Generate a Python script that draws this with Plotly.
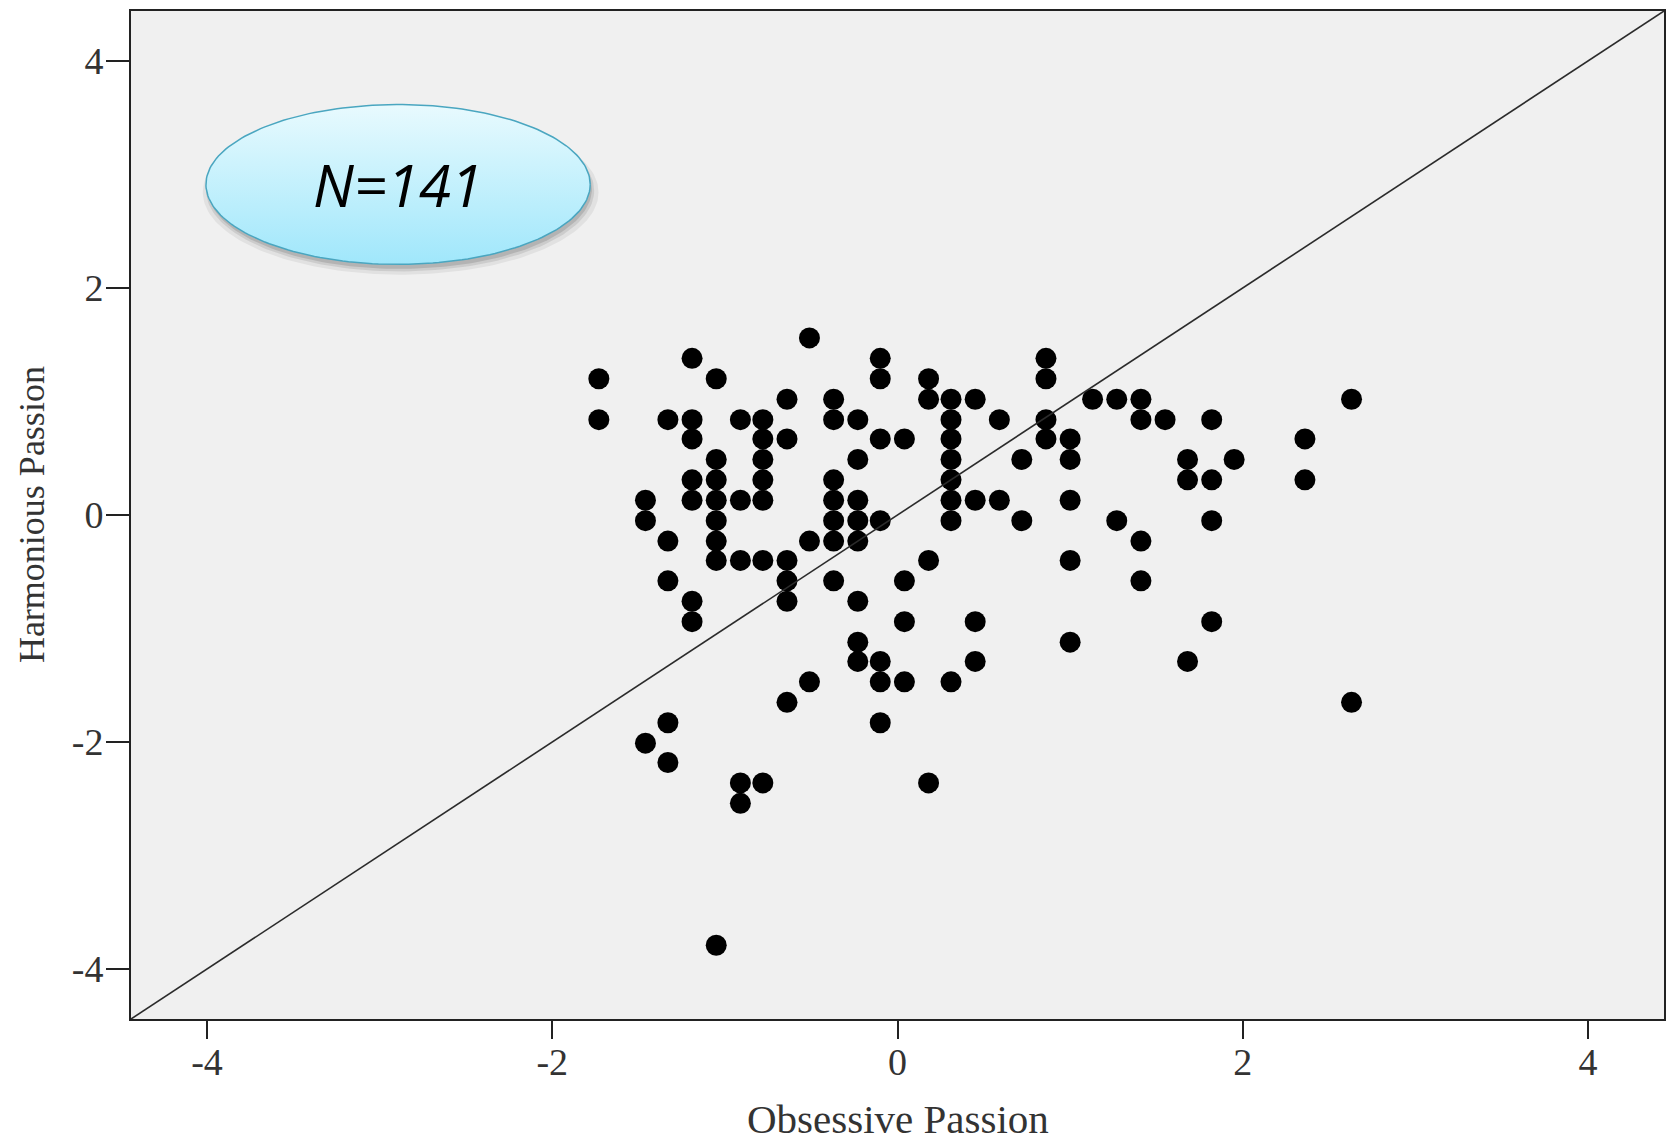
import numpy as np
import plotly.graph_objects as go

# ---- data ----
obsessive = [
    -0.51,
    -1.19, -0.10, 0.86,
    -1.73, -1.05, -0.10, 0.18, 0.86,
    -0.64, -0.37, 0.18, 0.31, 0.45, 1.13, 1.27, 1.41, 2.63,
    -1.73, -1.33, -1.19, -0.91, -0.78, -0.37, -0.23, 0.31, 0.59, 0.86, 1.41, 1.55, 1.82,
    -1.19, -0.78, -0.64, -0.10, 0.04, 0.31, 0.86, 1.00, 2.36,
    -1.05, -0.78, -0.23, 0.31, 0.72, 1.00, 1.68, 1.95,
    -1.19, -1.05, -0.78, -0.37, 0.31, 1.68, 1.82, 2.36,
    -1.46, -1.19, -1.05, -0.91, -0.78, -0.37, -0.23, 0.31, 0.45, 0.59, 1.00,
    -1.46, -1.05, -0.37, -0.23, -0.10, 0.31, 0.72, 1.27, 1.82,
    -1.33, -1.05, -0.51, -0.37, -0.23, 1.41,
    -1.05, -0.91, -0.78, -0.64, 0.18, 1.00,
    -1.33, -0.64, -0.37, 0.04, 1.41,
    -1.19, -0.64, -0.23,
    -1.19, 0.04, 0.45, 1.82,
    -0.23, 1.00,
    -0.23, -0.10, 0.45, 1.68,
    -0.51, -0.10, 0.04, 0.31,
    -0.64, 2.63,
    -1.33, -0.10,
    -1.46,
    -1.33,
    -0.91, -0.78, 0.18,
    -0.91,
    -1.05,
]

harmonious = [
    1.56,
    1.38, 1.38, 1.38,
    1.20, 1.20, 1.20, 1.20, 1.20,
    1.02, 1.02, 1.02, 1.02, 1.02, 1.02, 1.02, 1.02, 1.02,
    0.84, 0.84, 0.84, 0.84, 0.84, 0.84, 0.84, 0.84, 0.84, 0.84, 0.84, 0.84, 0.84,
    0.67, 0.67, 0.67, 0.67, 0.67, 0.67, 0.67, 0.67, 0.67,
    0.49, 0.49, 0.49, 0.49, 0.49, 0.49, 0.49, 0.49,
    0.31, 0.31, 0.31, 0.31, 0.31, 0.31, 0.31, 0.31,
    0.13, 0.13, 0.13, 0.13, 0.13, 0.13, 0.13, 0.13, 0.13, 0.13, 0.13,
    -0.05, -0.05, -0.05, -0.05, -0.05, -0.05, -0.05, -0.05, -0.05,
    -0.23, -0.23, -0.23, -0.23, -0.23, -0.23,
    -0.40, -0.40, -0.40, -0.40, -0.40, -0.40,
    -0.58, -0.58, -0.58, -0.58, -0.58,
    -0.76, -0.76, -0.76,
    -0.94, -0.94, -0.94, -0.94,
    -1.12, -1.12,
    -1.29, -1.29, -1.29, -1.29,
    -1.47, -1.47, -1.47, -1.47,
    -1.65, -1.65,
    -1.83, -1.83,
    -2.01,
    -2.18,
    -2.36, -2.36, -2.36,
    -2.54,
    -3.79,
]

tick_vals = [-4, -2, 0, 2, 4]
tick_text = ["-4", "-2", "0", "2", "4"]
axis_range = [-4.44, 4.44]
x_title = "Obsessive Passion"
y_title = "Harmonious Passion"
badge_text = "N=141"

# ---- figure ----
fig = go.Figure()

# reference line y = x across the whole plotting area
fig.add_shape(type="line", xref="x", yref="y",
              x0=axis_range[0], y0=axis_range[0], x1=axis_range[1], y1=axis_range[1],
              line=dict(color="#2b2b2b", width=1.6), layer="above")

fig.add_trace(go.Scatter(
    x=obsessive, y=harmonious, mode="markers",
    marker=dict(color="black", size=21, line=dict(width=0)),
    hoverinfo="x+y", showlegend=False,
))

# ---- "N=141" badge (ellipse with gradient and soft shadow) ----
cx, cy = -2.893, 2.912
ax_, ay_ = 1.113, 0.704
t = np.linspace(0, 2 * np.pi, 200)
for dx, dy, grow, alpha in [(0.015, -0.07, 1.03, 0.06), (0.012, -0.055, 1.01, 0.09),
                            (0.01, -0.04, 1.0, 0.12)]:
    fig.add_trace(go.Scatter(
        x=cx + dx + ax_ * grow * np.cos(t), y=cy + dy + ay_ * grow * np.sin(t),
        mode="lines", fill="toself", fillcolor=f"rgba(0,0,0,{alpha})",
        line=dict(width=0), hoverinfo="skip", showlegend=False,
    ))
fig.add_trace(go.Scatter(
    x=cx + ax_ * np.cos(t), y=cy + ay_ * np.sin(t),
    mode="lines", fill="toself",
    fillgradient=dict(type="vertical",
                      colorscale=[[0, "#a0e7fb"], [1, "#e8fafe"]]),
    line=dict(color="#4aa6c0", width=1.5), hoverinfo="skip", showlegend=False,
))

annotations = [
    dict(x=cx, y=cy, xref="x", yref="y", text=f"<i>{badge_text}</i>", showarrow=False,
         font=dict(family="Open Sans", size=58, color="black")),
    dict(x=0.0, y=-0.0992, xref="x", yref="paper", text=x_title, showarrow=False,
         font=dict(family="Liberation Serif", size=41, color="#333333"),
         xanchor="center", yanchor="middle"),
    dict(x=-0.0645, y=0.5, xref="paper", yref="paper", text=y_title, showarrow=False,
         textangle=-90, font=dict(family="Liberation Serif", size=36, color="#333333"),
         xanchor="center", yanchor="middle"),
]

axis_common = dict(
    range=axis_range, showgrid=False, zeroline=False,
    showline=True, linecolor="#222222", linewidth=2, mirror=True,
    ticks="outside", tickwidth=1.5, tickcolor="#222222",
    tickvals=tick_vals, ticktext=tick_text,
    tickfont=dict(family="Liberation Serif", size=38, color="#333333"),
    fixedrange=True,
)

fig.update_layout(
    width=1668, height=1145,
    margin=dict(l=131, r=2, t=11, b=126),
    paper_bgcolor="white", plot_bgcolor="#f0f0f0",
    showlegend=False,
    xaxis=dict(axis_common, ticklen=18, ticklabelstandoff=-10),
    yaxis=dict(axis_common, ticklen=23, ticklabelstandoff=-5),
    annotations=annotations,
)

fig.write_html(
    "out.html",
    config={"displayModeBar": False},
    post_script="document.body.style.margin='0';document.body.style.overflow='hidden';",
)
